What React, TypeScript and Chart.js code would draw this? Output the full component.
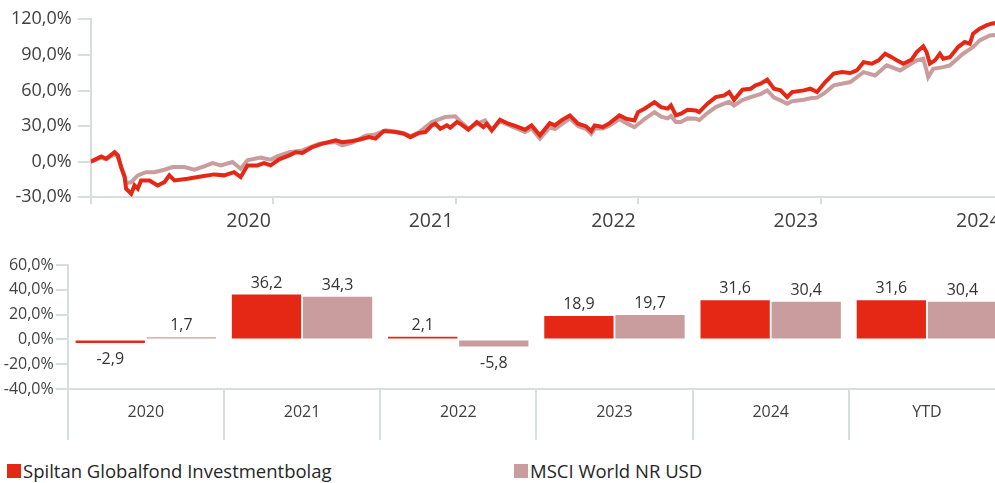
import React, { useEffect, useRef } from 'react';
import { Chart, registerables } from 'chart.js';
Chart.register(...registerables);

// ---------- data ----------
const seriesNames = ['Spiltan Globalfond Investmentbolag', 'MSCI World NR USD'];

const spiltanDates = [
  2020.000, 2020.058, 2020.085, 2020.131, 2020.149, 2020.167, 2020.186, 2020.194, 2020.222, 2020.240, 2020.258, 2020.276, 2020.322, 2020.367, 2020.404, 2020.431, 2020.459, 2020.531, 2020.604, 2020.677, 2020.731, 2020.786, 2020.822, 2020.859, 2020.913, 2020.950, 2020.986,
  2021.033, 2021.088, 2021.124, 2021.160, 2021.215, 2021.270, 2021.343, 2021.379, 2021.433, 2021.470, 2021.525, 2021.561, 2021.606, 2021.670, 2021.716, 2021.752, 2021.797, 2021.834, 2021.870, 2021.889, 2021.916, 2021.952, 2021.971,
  2022.007, 2022.025, 2022.070, 2022.116, 2022.152, 2022.170, 2022.198, 2022.243, 2022.289, 2022.334, 2022.380, 2022.416, 2022.462, 2022.516, 2022.544, 2022.580, 2022.626, 2022.671, 2022.716, 2022.743, 2022.762, 2022.807, 2022.844, 2022.898, 2022.935, 2022.980,
  2023.000, 2023.035, 2023.090, 2023.126, 2023.162, 2023.180, 2023.207, 2023.235, 2023.271, 2023.317, 2023.335, 2023.380, 2023.426, 2023.472, 2023.499, 2023.526, 2023.572, 2023.617, 2023.644, 2023.671, 2023.708, 2023.745, 2023.781, 2023.817, 2023.844, 2023.908, 2023.944, 2023.981,
  2024.026, 2024.072, 2024.117, 2024.163, 2024.199, 2024.236, 2024.281, 2024.318, 2024.354, 2024.390, 2024.418, 2024.454, 2024.499, 2024.527, 2024.563, 2024.581, 2024.599, 2024.627, 2024.654, 2024.672, 2024.709, 2024.754, 2024.790, 2024.818, 2024.836, 2024.872, 2024.909, 2024.936, 2024.980,
];
const spiltanValues = [
  0, 4.5, 2.5, 8, 5.3, -4.5, -13, -22.8, -27, -20, -22.8, -15.8, -15.8, -20, -17.2, -11.5, -15.8, -14.3, -12.4, -10.7, -11.5, -8.8, -13, -3.1, -3.1, -1.2, -3.1,
  2.0, 5.3, 8, 7.3, 12.3, 15.2, 18, 16.5, 17.4, 18.5, 20.7, 19.4, 25.8, 25, 23.6, 20.7, 24.1, 25, 30.6, 32, 27.8, 30.6, 28.7,
  33.4, 32, 27, 33.4, 29.2, 32, 26.4, 35.4, 32, 29.7, 27, 30.6, 22.2, 32.5, 30.6, 34.8, 39, 32, 29.7, 25.8, 30.6, 29.2, 32.5, 39, 36.2, 34.8,
  41.8, 44.7, 50.2, 46, 44.7, 47.4, 39, 40.4, 43.8, 43.2, 41.8, 48.9, 54.4, 55.9, 58.7, 52.2, 60.7, 61.5, 64.3, 65.7, 69.1, 61.5, 60.1, 54.4, 58.7, 60.1, 61.5, 58.7,
  67.1, 74.2, 75.5, 74.7, 76.9, 83.9, 82.6, 85.4, 91, 88.1, 85.4, 82.6, 86, 92.4, 97.2, 92.4, 82.6, 85.4, 91, 86.8, 88.1, 96.6, 100.8, 99.4, 107.9, 112.1, 114.9, 116.3, 117.5,
];

const msciDates = [
  2020.000, 2020.058, 2020.085, 2020.131, 2020.149, 2020.167, 2020.186, 2020.194, 2020.222, 2020.258, 2020.303, 2020.349, 2020.404, 2020.449, 2020.513, 2020.568, 2020.622, 2020.668, 2020.713, 2020.777, 2020.822, 2020.859, 2020.931, 2020.986,
  2021.022, 2021.088, 2021.160, 2021.252, 2021.343, 2021.379, 2021.433, 2021.506, 2021.561, 2021.616, 2021.670, 2021.716, 2021.752, 2021.797, 2021.870, 2021.943, 2021.998,
  2022.025, 2022.070, 2022.116, 2022.161, 2022.198, 2022.243, 2022.289, 2022.334, 2022.380, 2022.416, 2022.462, 2022.516, 2022.544, 2022.580, 2022.626, 2022.671, 2022.716, 2022.743, 2022.762, 2022.807, 2022.844, 2022.898, 2022.935, 2022.980,
  2023.016, 2023.035, 2023.090, 2023.126, 2023.162, 2023.180, 2023.207, 2023.235, 2023.271, 2023.317, 2023.335, 2023.380, 2023.426, 2023.472, 2023.499, 2023.526, 2023.572, 2023.617, 2023.671, 2023.708, 2023.745, 2023.781, 2023.817, 2023.844, 2023.908, 2023.944, 2023.981,
  2024.017, 2024.072, 2024.163, 2024.236, 2024.299, 2024.363, 2024.436, 2024.527, 2024.563, 2024.581, 2024.590, 2024.618, 2024.672, 2024.709, 2024.781, 2024.836, 2024.872, 2024.927, 2024.980,
];
const msciValues = [
  0, 3.5, 2, 6.5, 4, -5, -12, -18, -17.2, -11.5, -8.8, -8.8, -6.8, -4.5, -4.5, -6.8, -4, -1.2, -3.1, -0.3, -5.9, 1.1, 3.4, 1.7,
  4.5, 8, 9.5, 15.2, 16.5, 13.7, 16, 22, 23, 26.4, 25.5, 24, 21.5, 24.5, 33.4, 37.6, 38.2,
  34, 28, 32, 34.8, 27, 34, 31, 28, 25, 28, 19.4, 29, 27.5, 31.5, 36.5, 30, 27.5, 23.5, 28, 28, 30.5, 36, 32.5, 29.2,
  33.4, 36, 41.8, 38, 36.5, 38.5, 33.4, 33.5, 36.5, 36.2, 35, 41, 46, 48.9, 50.5, 47.4, 52, 54.4, 57, 60.1, 54, 51.7, 48.9, 51, 52.2, 53.5, 54,
  57.3, 64.3, 67.1, 75.5, 72.7, 81.2, 76.9, 85.4, 86.8, 76.9, 71.3, 78.3, 79.7, 81.2, 91, 96.6, 102.2, 106.4, 107,
];

const yearTicks = [2020, 2021, 2022, 2023, 2024, 2025];
const lineYTicks = [-30, 0, 30, 60, 90, 120];

const barCategories = ['2020', '2021', '2022', '2023', '2024', 'YTD'];
const spiltanAnnual = [-2.9, 36.2, 2.1, 18.9, 31.6, 31.6];
const msciAnnual = [1.7, 34.3, -5.8, 19.7, 30.4, 30.4];
const barYTicks = [-40, -20, 0, 20, 40, 60];

// ---------- style ----------
const RED = '#E42815';
const PINK = '#C99D9D';
const AXIS = '#D8DEDE';
const TEXT = '#404040';
const FONT = "'Open Sans', sans-serif";
const LEGEND_FONT = "'Open Sans', sans-serif";
const LABEL_SHIFT = 0.865;

const pct = (v: number) => v.toFixed(1).replace('.', ',') + '%';
const isInt = (v: number) => Math.abs(v - Math.round(v)) < 1e-6;

const barLabelPlugin = {
  id: 'barLabels',
  afterDatasetsDraw(chart: any) {
    const ctx = chart.ctx;
    ctx.save();
    ctx.font = `16px ${FONT}`;
    ctx.fillStyle = '#333333';
    ctx.textAlign = 'center';
    ctx.textBaseline = 'alphabetic';
    chart.data.datasets.forEach((ds: any, i: number) => {
      chart.getDatasetMeta(i).data.forEach((bar: any, j: number) => {
        const v = ds.data[j] as number;
        const label = v.toFixed(1).replace('.', ',');
        if (v >= 0) ctx.fillText(label, bar.x, bar.y - 7);
        else ctx.fillText(label, bar.x, bar.y + 21.5);
      });
    });
    ctx.restore();
  },
};

function LineChart() {
  const ref = useRef<HTMLCanvasElement>(null);
  useEffect(() => {
    const chart = new Chart(ref.current!, {
      type: 'line',
      data: {
        datasets: [
          {
            label: seriesNames[0],
            data: spiltanDates.map((d, i) => ({ x: d, y: spiltanValues[i] })),
            borderColor: RED,
            backgroundColor: RED,
            borderWidth: 4,
            pointRadius: 0,
            tension: 0,
          },
          {
            label: seriesNames[1],
            data: msciDates.map((d, i) => ({ x: d, y: msciValues[i] })),
            borderColor: PINK,
            backgroundColor: PINK,
            borderWidth: 4,
            pointRadius: 0,
            tension: 0,
          },
        ],
      },
      options: {
        responsive: false,
        animation: false,
        layout: { padding: { top: 19.3, right: 1.3, left: 0, bottom: 0 } },
        plugins: { legend: { display: false }, tooltip: { enabled: false } },
        scales: {
          x: {
            type: 'linear',
            min: yearTicks[0],
            max: yearTicks[yearTicks.length - 1],
            afterBuildTicks: (s: any) => {
              const t: any[] = [];
              yearTicks.forEach((y, i) => {
                t.push({ value: y });
                if (i < yearTicks.length - 1) t.push({ value: y + LABEL_SHIFT });
              });
              s.ticks = t;
            },
            afterFit: (s: any) => { s.height = 240 - 197.3; },
            ticks: {
              autoSkip: false,
              maxRotation: 0,
              padding: 5,
              color: TEXT,
              font: { size: 19.5, family: FONT },
              callback: (v: any) => (isInt(Number(v)) ? '' : String(Math.floor(Number(v)))),
            },
            grid: {
              drawOnChartArea: false,
              tickLength: 7,
              lineWidth: 2,
              color: AXIS,
              tickColor: (ctx: any) => (ctx.tick && isInt(ctx.tick.value) ? AXIS : 'rgba(0,0,0,0)'),
            },
            border: { display: true, color: AXIS, width: 2 },
          },
          y: {
            min: lineYTicks[0],
            max: lineYTicks[lineYTicks.length - 1],
            afterBuildTicks: (s: any) => { s.ticks = lineYTicks.map((v) => ({ value: v })); },
            afterFit: (s: any) => { s.width = 90.7; },
            ticks: {
              padding: 6,
              color: TEXT,
              font: { size: 18, family: FONT },
              callback: (v: any) => pct(Number(v)),
            },
            grid: { drawOnChartArea: false, tickLength: 13, lineWidth: 2, color: AXIS },
            border: { display: true, color: AXIS, width: 2 },
          },
        },
      },
    } as any);
    return () => chart.destroy();
  }, []);
  return <canvas ref={ref} width={1008} height={240} style={{ position: 'absolute', left: 0, top: 0, width: 1008, height: 240 }} />;
}

function BarChart() {
  const ref = useRef<HTMLCanvasElement>(null);
  useEffect(() => {
    const chart = new Chart(ref.current!, {
      type: 'bar',
      data: {
        labels: barCategories,
        datasets: [
          { label: seriesNames[0], data: spiltanAnnual, backgroundColor: RED, borderWidth: 0, categoryPercentage: 0.91, barPercentage: 0.975 },
          { label: seriesNames[1], data: msciAnnual, backgroundColor: PINK, borderWidth: 0, categoryPercentage: 0.91, barPercentage: 0.975 },
        ],
      },
      options: {
        responsive: false,
        animation: false,
        layout: { padding: { top: 25, right: 1, left: 0, bottom: 0 } },
        plugins: { legend: { display: false }, tooltip: { enabled: false } },
        scales: {
          x: {
            afterFit: (s: any) => { s.height = 56; },
            ticks: { padding: -37, color: TEXT, font: { size: 16, family: FONT } },
            grid: { offset: true, drawOnChartArea: false, tickLength: 51, lineWidth: 2, color: AXIS },
            border: { display: true, color: AXIS, width: 2 },
          },
          y: {
            min: barYTicks[0],
            max: barYTicks[barYTicks.length - 1],
            afterBuildTicks: (s: any) => { s.ticks = barYTicks.map((v) => ({ value: v })); },
            afterFit: (s: any) => { s.width = 67.7; },
            ticks: { padding: 2, color: TEXT, font: { size: 16, family: FONT }, callback: (v: any) => pct(Number(v)) },
            grid: { drawOnChartArea: false, tickLength: 12, lineWidth: 2, color: AXIS },
            border: { display: true, color: AXIS, width: 2 },
          },
        },
      },
      plugins: [barLabelPlugin],
    } as any);
    return () => chart.destroy();
  }, []);
  return <canvas ref={ref} width={1006} height={205} style={{ position: 'absolute', left: 0, top: 240, width: 1006, height: 205 }} />;
}

function Legend() {
  const items = [
    { name: seriesNames[0], color: RED, left: 7 },
    { name: seriesNames[1], color: PINK, left: 514 },
  ];
  return (
    <>
      {items.map((it) => (
        <div key={it.name} style={{ position: 'absolute', left: it.left, top: 462, height: 18, display: 'flex', alignItems: 'center', whiteSpace: 'nowrap' }}>
          <span style={{ display: 'inline-block', width: 14, height: 14, background: it.color, marginRight: 2 }} />
          <span style={{ fontFamily: LEGEND_FONT, fontSize: 18.5, color: '#262626', lineHeight: '18px' }}>{it.name}</span>
        </div>
      ))}
    </>
  );
}

export default function App() {
  return (
    <div style={{ position: 'absolute', left: 0, top: 0, width: 995, height: 483, overflow: 'hidden', background: '#fff' }}>
      <LineChart />
      <BarChart />
      <Legend />
    </div>
  );
}
